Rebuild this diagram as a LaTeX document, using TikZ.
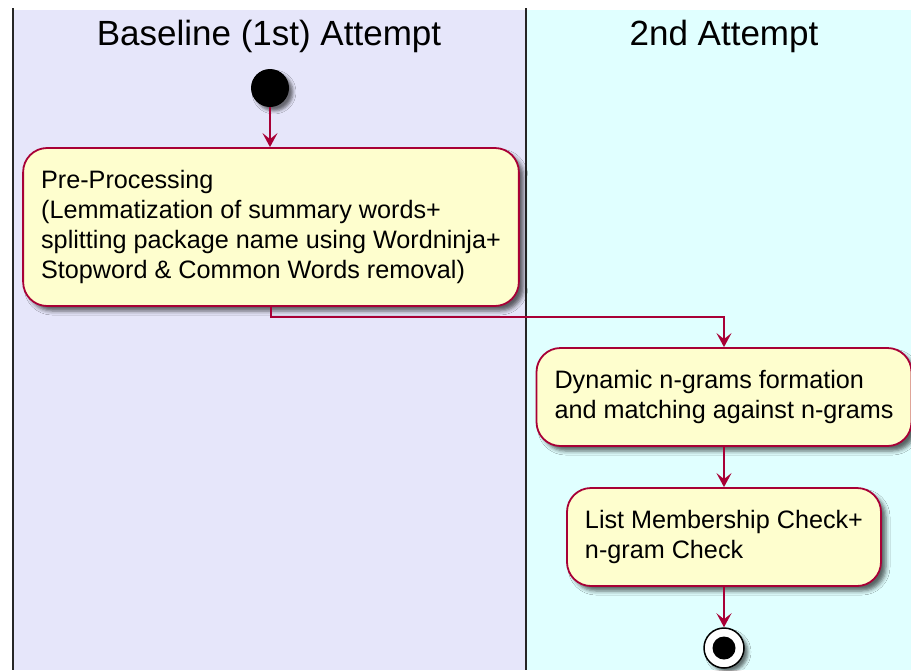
\documentclass[tikz,border=0pt]{standalone}
\usepackage{fontspec}
\setmainfont{Liberation Sans}
\usetikzlibrary{arrows.meta,shadows.blur}
\definecolor{laneA}{HTML}{E6E6FA}
\definecolor{laneB}{HTML}{E0FFFF}
\definecolor{actfill}{HTML}{FEFECE}
\definecolor{actline}{HTML}{A80036}
\tikzset{
  lanetitle/.style={font=\fontsize{35}{42}\selectfont, anchor=center, inner sep=0pt},
  lanerule/.style={line width=2pt, draw=black!85},
  activity/.style={draw=actline, fill=actfill, line width=1.8pt, rounded corners=24pt,
    align=left, inner xsep=18pt, inner ysep=0pt,
    font=\fontsize{25.2}{30}\selectfont,
    blur shadow={shadow xshift=5pt, shadow yshift=-5pt, shadow blur radius=4pt, shadow opacity=60}},
  flow/.style={draw=actline, line width=1.8pt, -{Stealth[length=14pt,width=15pt,inset=6pt]}},
  startnode/.style={circle, fill=black, minimum size=38pt, inner sep=0pt,
    blur shadow={shadow xshift=4pt, shadow yshift=-4pt, shadow blur radius=3pt, shadow opacity=55}},
  endnode/.style={circle, draw=black, line width=1.5pt, fill=white, minimum size=40pt, inner sep=0pt,
    blur shadow={shadow xshift=4pt, shadow yshift=-4pt, shadow blur radius=3pt, shadow opacity=55}},
  enddot/.style={circle, fill=black, minimum size=23pt, inner sep=0pt}
}
\begin{document}
\begin{tikzpicture}[x=1pt,y=-1pt]
\useasboundingbox (0,0) rectangle (911,670);
\fill[white] (0,0) rectangle (911,670);
% lanes
\fill[laneA] (13,10) rectangle (526,670);
\fill[laneB] (526,10) rectangle (911,670);
\draw[lanerule] (13,8) -- (13,670);
\draw[lanerule] (526,8) -- (526,670);
\node[lanetitle] (t1) at (269,36) {Baseline (1st) Attempt};
\node[lanetitle] (t2) at (724,36) {2nd Attempt};
% nodes
\node[startnode] (start) at (270,88) {};
\node[activity, minimum height=158pt] (pre) at (271,227)
  {Pre-Processing\\(Lemmatization of summary words+\\splitting package name using Wordninja+\\Stopword \& Common Words removal)};
\node[activity, minimum height=98pt] (dyn) at (724,397)
  {Dynamic n-grams formation\\and matching against n-grams};
\node[activity, minimum height=98pt] (lst) at (724,537)
  {List Membership Check+\\n-gram Check};
\node[endnode] (stop) at (724,648) {};
\node[enddot] at (stop.center) {};
% connectors
\draw[flow] (start.south) -- (start.south |- pre.north);
\coordinate (bend) at (724,317);
\draw[flow] (pre.south) |- (bend) -- (dyn.north);
\draw[flow] (dyn.south) -- (lst.north);
\draw[flow] (lst.south) -- (stop.north);
\end{tikzpicture}
\end{document}
